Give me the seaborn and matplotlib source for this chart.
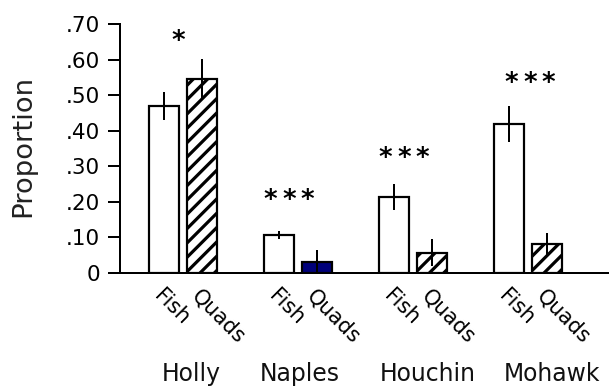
import numpy as np
import pandas as pd
import matplotlib
matplotlib.use("Agg")
import matplotlib.pyplot as plt
import seaborn as sns

# ---- data -------------------------------------------------------------
sites = ["Holly", "Naples", "Houchin", "Mohawk"]
groups = ["Fish", "Quads"]
fish_mean = [0.470, 0.107, 0.213, 0.418]
fish_err = [0.039, 0.012, 0.037, 0.051]
quads_mean = [0.545, 0.032, 0.057, 0.081]
quads_err = [0.056, 0.033, 0.038, 0.032]
significance = ["*", "***", "***", "***"]
y_ticks = [0.0, 0.1, 0.2, 0.3, 0.4, 0.5, 0.6, 0.7]
y_tick_labels = ["0", ".10", ".20", ".30", ".40", ".50", ".60", ".70"]

# ---- canvas -----------------------------------------------------------
DPI = 86
W, H = 609, 391


def px(v):
    """pixels -> points"""
    return v * 72.0 / DPI


sns.set_style("ticks")
plt.rcParams["font.family"] = ["DejaVu Sans"]
plt.rcParams["hatch.linewidth"] = px(3.2)
plt.rcParams["hatch.color"] = "black"

df = pd.DataFrame({
    "site": sites * 2,
    "group": ["Fish"] * len(sites) + ["Quads"] * len(sites),
    "proportion": fish_mean + quads_mean,
    "err": fish_err + quads_err,
})

fig = plt.figure(figsize=(W / DPI, H / DPI), dpi=DPI, facecolor="white")
ax = fig.add_axes([120 / W, 1 - 273 / H, 1 - 120 / W, (273 - 24) / H])
ax.set_facecolor("white")

sns.barplot(data=df, x="site", y="proportion", hue="group",
            order=sites, hue_order=groups, width=0.66, gap=0.2,
            palette=["white", "white"], edgecolor="black",
            linewidth=px(2.2), errorbar=None, legend=False, ax=ax)

# bars ordered left to right: Holly Fish, Holly Quads, Naples Fish, ...
bars = sorted(ax.patches, key=lambda p: p.get_x())
centers = [b.get_x() + b.get_width() / 2 for b in bars]
for i, b in enumerate(bars):
    site = sites[i // 2]
    if i % 2 == 1:
        if site == "Naples":
            b.set_facecolor("#00007a")
        else:
            b.set_hatch("//")

means = [m for pair in zip(fish_mean, quads_mean) for m in pair]
errs = [e for pair in zip(fish_err, quads_err) for e in pair]
ax.errorbar(centers, means, yerr=errs, fmt="none", ecolor="black",
            elinewidth=px(2), capsize=0, zorder=4)

ax.set_xlim(-0.548, 3.704)
ax.set_ylim(0, 0.70)

# significance stars, one glyph at a time at a fixed pitch
star_size = px(26)
star_pitch = px(18.5)
star_pos = [(-0.043, 0.663), (1 - 0.078, 0.214), (2 - 0.078, 0.332), (3 + 0.017, 0.545)]
for s, (sx, sy) in zip(significance, star_pos):
    n = len(s)
    for k in range(n):
        ax.annotate("*", xy=(sx, sy), xycoords="data",
                    xytext=((k - (n - 1) / 2) * star_pitch, -0.44 * star_size),
                    textcoords="offset points", ha="center", va="baseline",
                    fontsize=star_size, fontweight="bold", color="black",
                    annotation_clip=False)

# y axis
ax.set_yticks(y_ticks)
ax.set_yticklabels(y_tick_labels)
ax.tick_params(axis="y", direction="out", length=px(12), width=px(2),
               pad=px(8), labelsize=px(21.5), colors="black")
ax.set_ylabel("")
fig.text(23 / W, 1 - 146 / H, "Proportion", rotation=90, ha="center",
         va="center", fontsize=px(27.5), color="#222222")

# x axis: one rotated label under each bar
ax.set_xticks(centers)
ax.set_xticklabels(groups * len(sites), rotation=-45, ha="left", va="top",
                   rotation_mode="anchor")
ax.tick_params(axis="x", length=0, pad=px(13), labelsize=px(21),
               colors="black")
ax.set_xlabel("")

# site names below the rotated labels
site_x = [0.075, 1.017, 2.13, 3.209]
for name, sx in zip(sites, site_x):
    ax.annotate(name, xy=(sx, 0), xycoords=ax.get_xaxis_transform(),
                xytext=(0, -px(108)), textcoords="offset points",
                ha="center", va="baseline", fontsize=px(23.5),
                color="#111111", annotation_clip=False)

sns.despine(ax=ax)
for side in ("left", "bottom"):
    ax.spines[side].set_linewidth(px(2))
    ax.spines[side].set_color("black")

fig.savefig("out.png", dpi=DPI, facecolor="white")
